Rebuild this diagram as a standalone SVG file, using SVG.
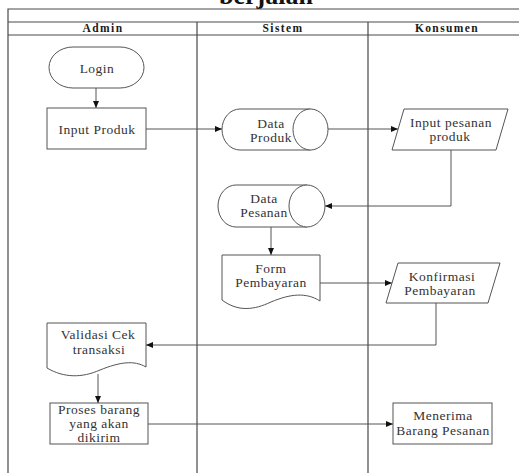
<svg xmlns="http://www.w3.org/2000/svg" width="519" height="473" viewBox="0 0 519 473">
  <style>
    .frame { fill: none; stroke: #4a4a4a; stroke-width: 1.2; }
    .shape { fill: #ffffff; stroke: #555555; stroke-width: 1; }
    .edge { fill: none; stroke: #555555; stroke-width: 1; }
    text { font-family: "Liberation Serif", serif; }
    .lbl { font-size: 13.5px; letter-spacing: 0.5px; fill: #333333; text-anchor: middle; }
    .head { font-size: 11.5px; font-weight: bold; letter-spacing: 1.4px; fill: #1a1a1a; text-anchor: middle; }
    .title { font-size: 26px; font-weight: bold; fill: #111111; text-anchor: middle; }
  </style>
  <defs>
    <marker id="arrow" markerWidth="7" markerHeight="6" refX="7" refY="3" orient="auto" markerUnits="userSpaceOnUse">
      <path d="M0,0 L7,3 L0,6 Z" fill="#111111"/>
    </marker>
  </defs>

  <rect width="519" height="473" fill="#ffffff"/>

  <!-- title, its upper part runs past the top edge -->
  <text class="title" x="266" y="4" font-family="Liberation Serif, serif">berjalan</text>

  <!-- swimlane frame -->
  <g id="lanes">
    <path class="frame" d="M8,473 V9 H519 M8,22 H519 M8,35 H519 M197,22 V473 M368,22 V473"/>
    <text class="head" x="103" y="32" font-family="Liberation Serif, serif">Admin</text>
    <text class="head" x="283" y="32" font-family="Liberation Serif, serif">Sistem</text>
    <text class="head" x="447" y="32" font-family="Liberation Serif, serif">Konsumen</text>
  </g>

  <!-- connectors -->
  <g id="connectors">
    <path class="edge" d="M96,88 V108" marker-end="url(#arrow)"/>
    <path class="edge" d="M146,129 H222" marker-end="url(#arrow)"/>
    <path class="edge" d="M328,129 H398" marker-end="url(#arrow)"/>
    <path class="edge" d="M451,150 V206 H325" marker-end="url(#arrow)"/>
    <path class="edge" d="M271,227 V255" marker-end="url(#arrow)"/>
    <path class="edge" d="M320,283 H392" marker-end="url(#arrow)"/>
    <path class="edge" d="M436,303 V345 H146" marker-end="url(#arrow)"/>
    <path class="edge" d="M98,374 V403" marker-end="url(#arrow)"/>
    <path class="edge" d="M148,424 H393" marker-end="url(#arrow)"/>
  </g>

  <!-- Admin lane -->
  <g id="login" font-family="Liberation Serif, serif">
    <rect class="shape" x="49" y="47" width="95" height="41" rx="24" ry="20.5"/>
    <text class="lbl" x="97" y="73">Login</text>
  </g>
  <g id="input-produk" font-family="Liberation Serif, serif">
    <rect class="shape" x="47" y="108" width="99" height="41"/>
    <text class="lbl" x="97" y="134">Input Produk</text>
  </g>
  <g id="validasi" font-family="Liberation Serif, serif">
    <path class="shape" d="M47,323 H146 V367 C134,360 120,362 100,370 C82,378 64,378 47,368 Z"/>
    <text class="lbl" x="98" y="339">Validasi Cek</text>
    <text class="lbl" x="99" y="354">transaksi</text>
  </g>
  <g id="proses" font-family="Liberation Serif, serif">
    <rect class="shape" x="50" y="403" width="98" height="41"/>
    <text class="lbl" x="99" y="414">Proses barang</text>
    <text class="lbl" x="99" y="428">yang akan</text>
    <text class="lbl" x="99" y="442">dikirim</text>
  </g>

  <!-- Sistem lane -->
  <g id="data-produk" font-family="Liberation Serif, serif">
    <path class="shape" d="M240,109 H310.5 A17.5,20.5 0 0 1 310.5,150 H240 A18,20.5 0 0 1 240,109 Z"/>
    <path class="shape" d="M310.5,109 A17.5,20.5 0 0 0 310.5,150" fill="none"/>
    <text class="lbl" x="271" y="128">Data</text>
    <text class="lbl" x="271" y="142">Produk</text>
  </g>
  <g id="data-pesanan" font-family="Liberation Serif, serif">
    <path class="shape" d="M236,185 H307 A18,21 0 0 1 307,227 H236 A18,21 0 0 1 236,185 Z"/>
    <path class="shape" d="M307,185 A18,21 0 0 0 307,227" fill="none"/>
    <text class="lbl" x="264" y="203">Data</text>
    <text class="lbl" x="264" y="217">Pesanan</text>
  </g>
  <g id="form-pembayaran" font-family="Liberation Serif, serif">
    <path class="shape" d="M222,255 H320 V301 C306,292 290,294 271,302 C254,310 238,312 222,300 Z"/>
    <text class="lbl" x="271" y="273">Form</text>
    <text class="lbl" x="271" y="287">Pembayaran</text>
  </g>

  <!-- Konsumen lane -->
  <g id="input-pesanan" font-family="Liberation Serif, serif">
    <path class="shape" d="M404,109 H508 L496,150 H392 Z"/>
    <text class="lbl" x="451" y="127">Input pesanan</text>
    <text class="lbl" x="450" y="141">produk</text>
  </g>
  <g id="konfirmasi" font-family="Liberation Serif, serif">
    <path class="shape" d="M398,263 H500 L488,303 H386 Z"/>
    <text class="lbl" x="442" y="281">Konfirmasi</text>
    <text class="lbl" x="440" y="295">Pembayaran</text>
  </g>
  <g id="menerima" font-family="Liberation Serif, serif">
    <rect class="shape" x="393" y="403" width="99" height="41"/>
    <text class="lbl" x="443" y="420">Menerima</text>
    <text class="lbl" x="443" y="435">Barang Pesanan</text>
  </g>
</svg>
